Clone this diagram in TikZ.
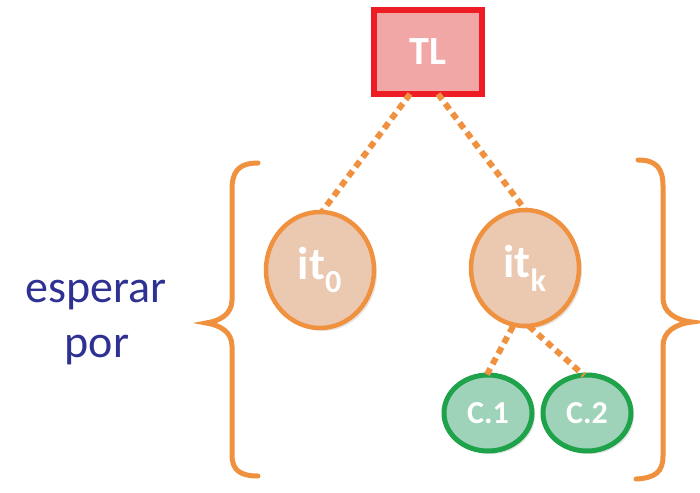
\documentclass[tikz,border=0pt]{standalone}
\usepackage{fontspec}
\setmainfont{Carlito}
\usetikzlibrary{shapes.geometric,shadows,calc}
\definecolor{tlred}{HTML}{EE1C24}
\definecolor{tlfill}{HTML}{F2A7A7}
\definecolor{itorange}{HTML}{F0913F}
\definecolor{itfill}{HTML}{EBC8B0}
\definecolor{cgreen}{HTML}{1EA24A}
\definecolor{cfill}{HTML}{9FD3B9}
\definecolor{txtblue}{HTML}{2E3192}
\tikzset{
  tlbox/.style={rectangle, draw=tlred, fill=tlfill, line width=6pt,
    minimum width=108pt, minimum height=84pt, text=white,
    font=\bfseries\fontsize{40}{40}\selectfont,
    drop shadow={opacity=0.25, shadow xshift=3pt, shadow yshift=-3pt}},
  itnode/.style={ellipse, draw=itorange, fill=itfill, line width=4.5pt,
    minimum width=108pt, minimum height=116pt, inner sep=0pt, text=white,
    font=\bfseries\fontsize{46}{46}\selectfont,
    drop shadow={opacity=0.2, shadow xshift=3pt, shadow yshift=-3pt}},
  cnode/.style={ellipse, draw=cgreen, fill=cfill, line width=5pt,
    minimum width=88pt, minimum height=76pt, inner sep=0pt, text=white,
    font=\bfseries\fontsize{32}{32}\selectfont,
    drop shadow={opacity=0.2, shadow xshift=3pt, shadow yshift=-3pt}},
  link/.style={draw=itorange, line width=6pt, dash pattern=on 7pt off 5pt},
  brace/.style={draw=itorange, line width=5pt, line cap=round},
  sidetext/.style={text=txtblue, font=\fontsize{46}{46}\selectfont, anchor=base},
}
\begin{document}
\begin{tikzpicture}[x=1pt,y=-1pt]
\useasboundingbox (0,0) rectangle (700,492);
\node[tlbox] (TL) at (428,52) {TL};
\node[itnode] (it0) at (320,270) {it\textsubscript{0}};
\node[itnode] (itk) at (525,268) {it\textsubscript{k}};
\node[cnode] (c1) at (488,413) {C.1};
\node[cnode] (c2) at (587,413) {C.2};

\draw[link] ($(TL.south)+(-18,-3)$) -- ($(it0.north)+(2,2)$);
\draw[link] ($(TL.south)+(10,-3)$) -- ($(itk.north)+(0,2)$);
\draw[link] ($(itk.south)+(-12,-2)$) -- ($(c1.north)+(-1,2)$);
\draw[link] ($(itk.south)+(4,-2)$) -- ($(c2.north)+(-3,3)$);

% left brace
\draw[brace] (258,163) .. controls (238,163) and (232,172) .. (232,190)
  -- (232,300) .. controls (232,314) and (220,321) .. (206,323)
  .. controls (220,325) and (232,332) .. (232,346)
  -- (232,455) .. controls (232,470) and (240,476) .. (258,476);
% right brace
\draw[brace] (638,160) .. controls (656,160) and (663,168) .. (663,186)
  -- (663,298) .. controls (663,312) and (675,320) .. (692,322)
  .. controls (675,324) and (663,332) .. (663,346)
  -- (663,456) .. controls (663,472) and (655,478) .. (636,479);

\node[sidetext] (t1) at (96,302) {esperar};
\node[sidetext] (t2) at (97,357) {por};
\end{tikzpicture}
\end{document}
